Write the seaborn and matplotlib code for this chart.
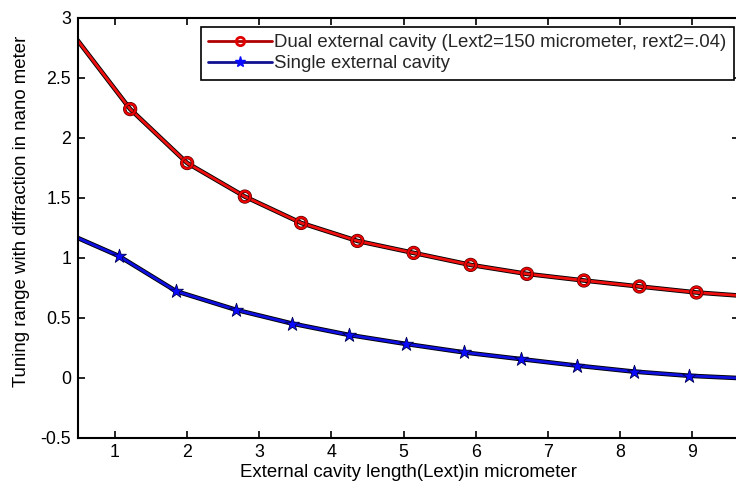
import numpy as np
import pandas as pd
import matplotlib
matplotlib.use("Agg")
import matplotlib.pyplot as plt
import matplotlib.patheffects as pe
from matplotlib.lines import Line2D
import seaborn as sns

# Data (first/last points lie just outside the visible x-range)
dual_x = [0.425, 1.21, 2.00, 2.80, 3.58, 4.36, 5.14, 5.93, 6.71, 7.50, 8.27, 9.06, 9.84]
dual_y = [2.858, 2.24, 1.79, 1.51, 1.29, 1.14, 1.04, 0.94, 0.865, 0.81, 0.76, 0.71, 0.676]
single_x = [0.26, 1.05, 1.85, 2.68, 3.46, 4.25, 5.04, 5.84, 6.63, 7.40, 8.19, 8.96, 9.75]
single_y = [1.224, 1.015, 0.72, 0.565, 0.45, 0.355, 0.28, 0.21, 0.154, 0.10, 0.05, 0.015, -0.007]

dual_label = "Dual external cavity (Lext2=150 micrometer, rext2=.04)"
single_label = "Single external cavity"
xlabel = "External cavity length(Lext)in micrometer"
ylabel = "Tuning range with diffraction in nano meter"
xticks = [1, 2, 3, 4, 5, 6, 7, 8, 9]
yticks = [-0.5, 0, 0.5, 1, 1.5, 2, 2.5, 3]
ytick_labels = ["-0.5", "0", "0.5", "1", "1.5", "2", "2.5", "3"]

sns.set_theme(style="white")
plt.rcParams["font.family"] = ["Liberation Sans", "DejaVu Sans"]

fig = plt.figure(figsize=(7.36, 4.84), dpi=100)
ax = fig.add_axes([78 / 736, (484 - 437.5) / 484, (739 - 78) / 736, (437.5 - 18) / 484])

df_dual = pd.DataFrame({"x": dual_x, "y": dual_y})
df_single = pd.DataFrame({"x": single_x, "y": single_y})

RED = "#f01010"
BLUE = "#1010e0"
line_fx = [pe.Stroke(linewidth=3.3, foreground="black"), pe.Normal()]
ring_fx = [pe.Stroke(linewidth=2.5, foreground="#4a0000"), pe.Normal()]

# lines
sns.lineplot(data=df_dual, x="x", y="y", ax=ax, color=RED, linewidth=2.0,
             path_effects=line_fx, sort=False, legend=False)
sns.lineplot(data=df_single, x="x", y="y", ax=ax, color=BLUE, linewidth=2.0,
             path_effects=line_fx, sort=False, legend=False)

# markers (interior points)
sns.scatterplot(data=df_dual.iloc[1:-1], x="x", y="y", ax=ax, marker="o", s=60,
                facecolor="none", edgecolor="#ee0000", linewidth=1.6,
                path_effects=ring_fx, legend=False, zorder=5)
sns.scatterplot(data=df_single.iloc[1:-1], x="x", y="y", ax=ax, marker="*", s=110,
                color="#0a0aff", edgecolor="#000050", linewidth=0.6,
                legend=False, zorder=5)

ax.set_xlim(0.487, 9.65)
ax.set_ylim(-0.5, 3)
ax.set_xticks(xticks)
ax.set_xticklabels([str(t) for t in xticks])
ax.set_yticks(yticks)
ax.set_yticklabels(ytick_labels)

ax.tick_params(direction="in", length=5, width=1.2, colors="black",
               labelsize=12.8, top=True, right=True, bottom=True, left=True, pad=5)
for s in ax.spines.values():
    s.set_visible(True)
    s.set_color("black")
    s.set_linewidth(1.5)

ax.set_xlabel(xlabel, fontsize=13.4, color="black", labelpad=2)
ax.set_ylabel(ylabel, fontsize=13.4, color="black")
ax.yaxis.set_label_coords(-0.0726, 0.540)

handles = [
    Line2D([], [], color="#b00000", lw=2.0, marker="o", markersize=6,
           markerfacecolor="none", markeredgecolor="#e00000", markeredgewidth=2.0),
    Line2D([], [], color="#101090", lw=2.0, marker="*", markersize=8,
           markerfacecolor="#0a0aff", markeredgecolor="#0a0aff"),
]
leg = ax.legend(handles, [dual_label, single_label], loc="upper right",
                bbox_to_anchor=((734 - 78) / (739 - 78), (437.5 - 27) / (437.5 - 18)),
                fontsize=13.4, frameon=True, fancybox=False, edgecolor="black",
                handlelength=3.4, handletextpad=0.15, borderpad=0.4, labelspacing=0.2,
                borderaxespad=0.0)
leg.get_frame().set_linewidth(1.2)
leg.get_frame().set_facecolor("white")
leg.get_frame().set_alpha(1)

fig.savefig("out.png", dpi=100)
